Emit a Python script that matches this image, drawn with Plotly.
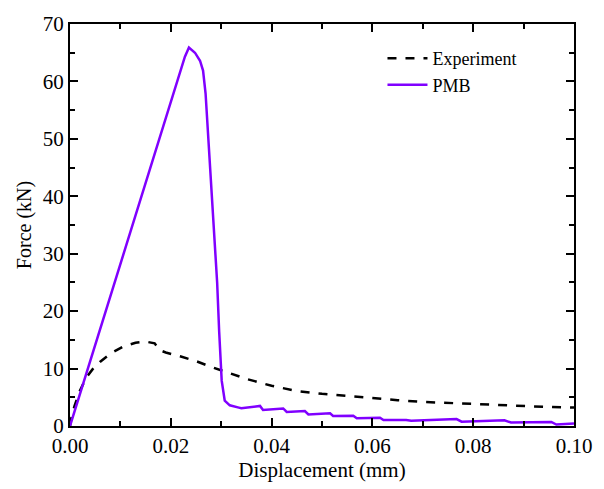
import plotly.graph_objects as go

# Experiment (dashed black)
exp_x = [0.0, 0.0003, 0.0009, 0.0019, 0.0032, 0.0045, 0.006, 0.008, 0.0105, 0.013,
         0.015, 0.0168, 0.0178, 0.019, 0.022, 0.025, 0.028, 0.031, 0.035, 0.04,
         0.045, 0.05, 0.055, 0.06, 0.065, 0.07, 0.075, 0.08, 0.085, 0.09, 0.095, 0.1]
exp_y = [0.0, 1.5, 3.5, 6.0, 8.4, 9.9, 11.2, 12.6, 13.8, 14.5,
         14.7, 14.4, 13.2, 12.8, 12.1, 11.3, 10.3, 9.4, 8.2, 7.0,
         6.1, 5.6, 5.2, 4.8, 4.5, 4.2, 4.0, 3.8, 3.6, 3.45, 3.3, 3.2]

# PMB (purple)
pmb_x = [0.0, 0.0198, 0.0228, 0.0236, 0.0248, 0.0258, 0.0264, 0.0269, 0.0274, 0.0281,
         0.0287, 0.0292, 0.0296, 0.0301, 0.0307, 0.0317, 0.0335, 0.034, 0.0377, 0.0383,
         0.0423, 0.043, 0.0466, 0.0473, 0.0516, 0.0522, 0.0562, 0.0569, 0.0615, 0.0622,
         0.0667, 0.0677, 0.0767, 0.0777, 0.0862, 0.0875, 0.0955, 0.0965, 0.1]
pmb_y = [0.0, 55.5, 64.3, 65.9, 65.0, 63.6, 61.9, 57.9, 50.5, 42.0,
         33.4, 24.9, 16.4, 7.9, 4.4, 3.6, 3.2, 3.1, 3.5, 2.8,
         3.05, 2.45, 2.6, 2.0, 2.2, 1.75, 1.8, 1.35, 1.45, 1.05,
         1.05, 0.9, 1.2, 0.75, 1.0, 0.6, 0.7, 0.25, 0.45]

x_range = [0, 0.1]
y_range = [0, 70]

FONT = "Liberation Serif"

fig = go.Figure()
fig.add_trace(go.Scatter(x=exp_x, y=exp_y, mode="lines", name="Experiment",
                         line=dict(color="black", width=2.5, dash="dash")))
fig.add_trace(go.Scatter(x=pmb_x, y=pmb_y, mode="lines", name="PMB",
                         line=dict(color="#8000FF", width=2.5)))

fig.update_layout(
    width=604, height=489, margin=dict(l=70, r=29, t=14, b=63),
    plot_bgcolor="white", paper_bgcolor="white",
    font=dict(family=FONT, size=20, color="black"),
    xaxis=dict(range=x_range, tick0=0, dtick=0.02, tickformat=".2f",
               showline=True, linecolor="black", linewidth=2, mirror="ticks",
               ticks="inside", ticklen=8, tickwidth=2, tickcolor="black",
               showgrid=False, zeroline=False,
               tickfont=dict(family=FONT, size=21, color="black"),
               title=dict(text="Displacement (mm)", standoff=3,
                          font=dict(family=FONT, size=21, color="black")),
               minor=dict(ticks="inside", dtick=0.01, ticklen=5, tickwidth=2, tickcolor="black")),
    yaxis=dict(range=y_range, tick0=0, dtick=10,
               showline=True, linecolor="black", linewidth=2, mirror="ticks",
               ticks="inside", ticklen=8, tickwidth=2, tickcolor="black",
               showgrid=False, zeroline=False,
               tickfont=dict(family=FONT, size=21, color="black"),
               title=dict(text="Force (kN)", standoff=6,
                          font=dict(family=FONT, size=20, color="black")),
               minor=dict(ticks="inside", dtick=5, ticklen=5, tickwidth=2, tickcolor="black")),
    showlegend=True,
    legend=dict(x=0.62, y=0.96, xanchor="left", yanchor="top",
                bgcolor="rgba(0,0,0,0)", borderwidth=0,
                font=dict(family=FONT, size=18, color="black"),
                tracegroupgap=0, itemwidth=40),
)

fig.write_html("out.html")
